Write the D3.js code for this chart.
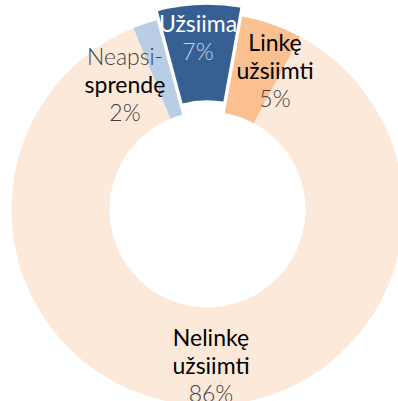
<!DOCTYPE html>
<html>
<head>
<meta charset="utf-8">
<script src="https://cdn.jsdelivr.net/npm/d3@7/dist/d3.min.js"></script>
<style>
  html, body { margin: 0; padding: 0; background: #fff; }
  svg { display: block; }
</style>
</head>
<body>
<svg id="chart" width="398" height="401"></svg>
<script>
// Survey shares, clockwise from the exploded slice
const categories = ["Užsiima", "Linkę užsiimti", "Nelinkę užsiimti", "Neapsisprendę"];
const values = [7, 5, 86, 2];
const colors = ["#376092", "#fac090", "#fde9d9", "#b9cde5"];
// Label lines per slice (name lines + value line)
const labelLines = [["Užsiima"], ["Linkę", "užsiimti"], ["Nelinkę", "užsiimti"], ["Neapsi-", "sprendę"]];
const valueLabels = ["7%", "5%", "86%", "2%"];

const width = 398, height = 401;
const cx = 207.5, cy = 209.5;
const innerR = 98, outerR = 196;
const explodeIdx = 0, explodeDist = 10;

const svg = d3.select("#chart");
const g = svg.append("g").attr("transform", `translate(${cx},${cy})`);

const data = categories.map((c, i) => ({ name: c, value: values[i], i }));

const pie = d3.pie()
  .value(d => d.value)
  .sort(null)
  .startAngle(-15 * Math.PI / 180)
  .endAngle(345 * Math.PI / 180);

const arcs = pie(data);
const arc = d3.arc().innerRadius(innerR).outerRadius(outerR);

function offset(a, dist) {
  const m = (a.startAngle + a.endAngle) / 2;
  return [Math.sin(m) * dist, -Math.cos(m) * dist];
}

// Non-exploded slices first, exploded slice drawn on top with a white edge
const order = arcs.filter(a => a.index !== explodeIdx).concat(arcs.filter(a => a.index === explodeIdx));
g.selectAll("path.slice")
  .data(order)
  .join("path")
  .attr("class", "slice")
  .attr("d", arc)
  .attr("fill", d => colors[d.index])
  .attr("stroke", d => d.index === explodeIdx ? "#fff" : "none")
  .attr("stroke-width", 2.5)
  .attr("transform", d => {
    if (d.index !== explodeIdx) return null;
    const [dx, dy] = offset(d, explodeDist);
    return `translate(${dx},${dy})`;
  });

// Label anchor positions (page coords) and styles per slice
const labelPos = [[198, 32], [275, 51], [211, 346], [125, 65]];
const lineH = 28;
const nameStyles = [
  [{ fill: "#ffffff", weight: 400 }],
  [{ fill: "#000000", weight: 400 }, { fill: "#000000", weight: 400 }],
  [{ fill: "#000000", weight: 400 }, { fill: "#000000", weight: 400 }],
  [{ fill: "#404040", weight: 300 }, { fill: "#000000", weight: 400 }]
];
const valueFill = ["#c6d3e6", "#404040", "#404040", "#404040"];

const labels = svg.append("g")
  .attr("font-family", "Lato, 'Open Sans', sans-serif")
  .attr("font-size", 23)
  .attr("text-anchor", "middle");

labelLines.forEach((lines, i) => {
  const [x, y] = labelPos[i];
  lines.forEach((t, j) => {
    labels.append("text")
      .attr("x", x)
      .attr("y", y + j * lineH)
      .attr("fill", nameStyles[i][j].fill)
      .attr("font-weight", nameStyles[i][j].weight)
      .text(t);
  });
  labels.append("text")
    .attr("x", x)
    .attr("y", y + lines.length * lineH)
    .attr("fill", valueFill[i])
    .attr("font-weight", 300)
    .text(valueLabels[i]);
});
</script>
</body>
</html>
